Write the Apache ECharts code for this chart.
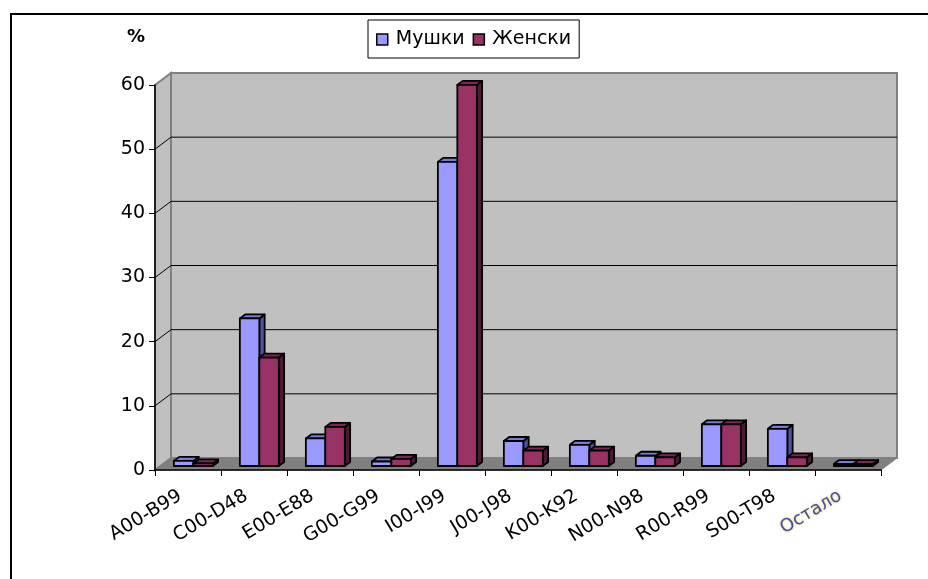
<!DOCTYPE html>
<html>
<head>
<meta charset="utf-8">
<title>Мушки / Женски</title>
<script src="https://cdn.jsdelivr.net/npm/echarts@6/dist/echarts.min.js"></script>
<style>
  html, body { margin: 0; padding: 0; background: #ffffff; }
  #chart { width: 928px; height: 579px; }
</style>
</head>
<body>
<div id="chart"></div>
<script>
// Diagnosis groups (ICD-10 ranges)
const categories = ['A00-B99', 'C00-D48', 'E00-E88', 'G00-G99', 'I00-I99', 'J00-J98',
                    'K00-K92', 'N00-N98', 'R00-R99', 'S00-T98', 'Остало'];
// Share in % per group
const male   = [0.8, 23.0, 4.3, 0.7, 47.4, 3.9, 3.3, 1.6, 6.5, 5.8, 0.3];
const female = [0.4, 16.9, 6.1, 1.1, 59.4, 2.4, 2.4, 1.35, 6.5, 1.35, 0.3];
const seriesNames = ['Мушки', 'Женски'];
// Value-axis ticks
const yTicks = [0, 10, 20, 30, 40, 50, 60];

const FONT = 'DejaVu Sans';
// Depth of the 3D box (back wall offset from the front plane)
const DX = 16, DY = -12;

// Face colours: front, top, side
const palette = [
  { front: '#9999ff', top: '#7b7bd6', side: '#4f4f9c' },
  { front: '#993366', top: '#7a2952', side: '#4d1a33' }
];

const chart = echarts.init(document.getElementById('chart'), null, { renderer: 'canvas' });

// Walls, floor and grid lines of the 3D plot area
function renderWalls(params, api) {
  const cs = params.coordSys;
  const x0 = cs.x, x1 = cs.x + cs.width;
  const yT = cs.y, yB = cs.y + cs.height;
  const children = [];
  children.push({
    type: 'polygon',
    shape: { points: [[x0 + DX, yT + DY], [x1 + DX, yT + DY], [x1 + DX, yB + DY], [x0 + DX, yB + DY]] },
    style: { fill: '#c0c0c0', stroke: '#808080', lineWidth: 2 }
  });
  children.push({
    type: 'polygon',
    shape: { points: [[x0, yT], [x0 + DX, yT + DY], [x0 + DX, yB + DY], [x0, yB]] },
    style: { fill: '#c0c0c0', stroke: '#808080', lineWidth: 2 }
  });
  children.push({
    type: 'polygon',
    shape: { points: [[x0, yB], [x0 + DX, yB + DY], [x1 + DX, yB + DY], [x1, yB]] },
    style: { fill: '#808080', stroke: '#808080', lineWidth: 1 }
  });
  yTicks.forEach(function (v) {
    if (v === yTicks[0] || v === yTicks[yTicks.length - 1]) return;
    const y = api.coord([0, v])[1];
    children.push({
      type: 'polyline',
      shape: { points: [[x0, y], [x0 + DX, y + DY], [x1 + DX, y + DY]] },
      style: { stroke: '#000000', lineWidth: 1, fill: null }
    });
  });
  return { type: 'group', children: children };
}

// One 3D column: front face, top face and right side face
function makeBarRenderer(s) {
  return function (params, api) {
    const i = api.value(0), v = api.value(1);
    const base = api.coord([i, 0]);
    const top = api.coord([i, v]);
    const band = api.size([1, 0])[0];
    const w = band * 0.295;
    const fx = DX / 3, fy = DY / 3;   // front face sits a third into the box
    const dx = DX / 3, dy = DY / 3;   // column depth
    const xL = base[0] + fx + (s === 0 ? -w : 0);
    const xR = xL + w;
    const yB = base[1] + fy;
    const yT = top[1] + fy;
    const c = palette[s];
    const edge = { stroke: '#000000', lineWidth: 1.8, lineJoin: 'round' };
    return {
      type: 'group',
      children: [
        { type: 'polygon',
          shape: { points: [[xR, yT], [xR + dx, yT + dy], [xR + dx, yB + dy], [xR, yB]] },
          style: Object.assign({ fill: c.side }, edge) },
        { type: 'polygon',
          shape: { points: [[xL, yT], [xR, yT], [xR + dx, yT + dy], [xL + dx, yT + dy]] },
          style: Object.assign({ fill: c.top }, edge) },
        { type: 'rect',
          shape: { x: xL, y: yT, width: w, height: yB - yT },
          style: Object.assign({ fill: c.front }, edge) }
      ]
    };
  };
}

const option = {
  backgroundColor: '#ffffff',
  animation: false,
  grid: { left: 155, right: 47, top: 85, bottom: 109 },
  legend: {
    data: [
      { name: seriesNames[0], itemStyle: { color: palette[0].front, borderColor: '#000', borderWidth: 1.5 } },
      { name: seriesNames[1], itemStyle: { color: palette[1].front, borderColor: '#000', borderWidth: 1.5 } }
    ],
    left: 368, top: 20,
    orient: 'horizontal',
    icon: 'rect',
    itemWidth: 11, itemHeight: 11, itemGap: 8,
    padding: [10, 8, 9, 8],
    borderColor: '#000000', borderWidth: 1,
    backgroundColor: '#ffffff',
    textStyle: { fontFamily: FONT, fontSize: 19, color: '#000000', padding: [0, 0, 0, 3] }
  },
  xAxis: {
    type: 'category',
    data: categories,
    boundaryGap: true,
    axisLine: { show: true, lineStyle: { color: '#000000', width: 1.5 } },
    axisTick: { show: true, length: 6, interval: 0, lineStyle: { color: '#000000', width: 1 } },
    axisLabel: {
      interval: 0,
      rotate: 31,
      margin: 20,
      padding: [0, 9, 0, 0],
      fontFamily: FONT,
      fontSize: 19,
      color: '#000000',
      formatter: function (v) { return v === 'Остало' ? '{o|' + v + '}' : v; },
      rich: {
        o: {
          fontFamily: FONT, fontSize: 18, color: '#3a4fb0',
          textShadowColor: '#f2c040', textShadowBlur: 3
        }
      }
    },
    splitLine: { show: false },
    z: 3
  },
  yAxis: {
    type: 'value',
    min: yTicks[0],
    max: yTicks[yTicks.length - 1],
    interval: yTicks[1] - yTicks[0],
    axisLine: { show: true, lineStyle: { color: '#000000', width: 1.5 } },
    axisTick: { show: true, length: 6, lineStyle: { color: '#000000', width: 1 } },
    axisLabel: { margin: 10, fontFamily: FONT, fontSize: 19, color: '#000000' },
    splitLine: { show: false },
    z: 3
  },
  graphic: [
    { type: 'rect', silent: true, z: 100,
      shape: { x: 11, y: 14, width: 960, height: 620 },
      style: { fill: null, stroke: '#000000', lineWidth: 2 } },
    { type: 'text', left: 127, top: 28, z: 100,
      style: { text: '%', font: 'bold 18px "DejaVu Sans"', fill: '#000000' } }
  ],
  series: [
    {
      type: 'custom', name: 'walls', z: -5, silent: true,
      renderItem: renderWalls,
      data: [[0, 0]],
      encode: { x: 0, y: 1 }
    },
    {
      type: 'custom', name: seriesNames[0], z: 2,
      itemStyle: { color: palette[0].front },
      renderItem: makeBarRenderer(0),
      data: male.map(function (v, i) { return [i, v]; }),
      encode: { x: 0, y: 1 }
    },
    {
      type: 'custom', name: seriesNames[1], z: 2,
      itemStyle: { color: palette[1].front },
      renderItem: makeBarRenderer(1),
      data: female.map(function (v, i) { return [i, v]; }),
      encode: { x: 0, y: 1 }
    }
  ]
};

chart.setOption(option);
</script>
</body>
</html>
